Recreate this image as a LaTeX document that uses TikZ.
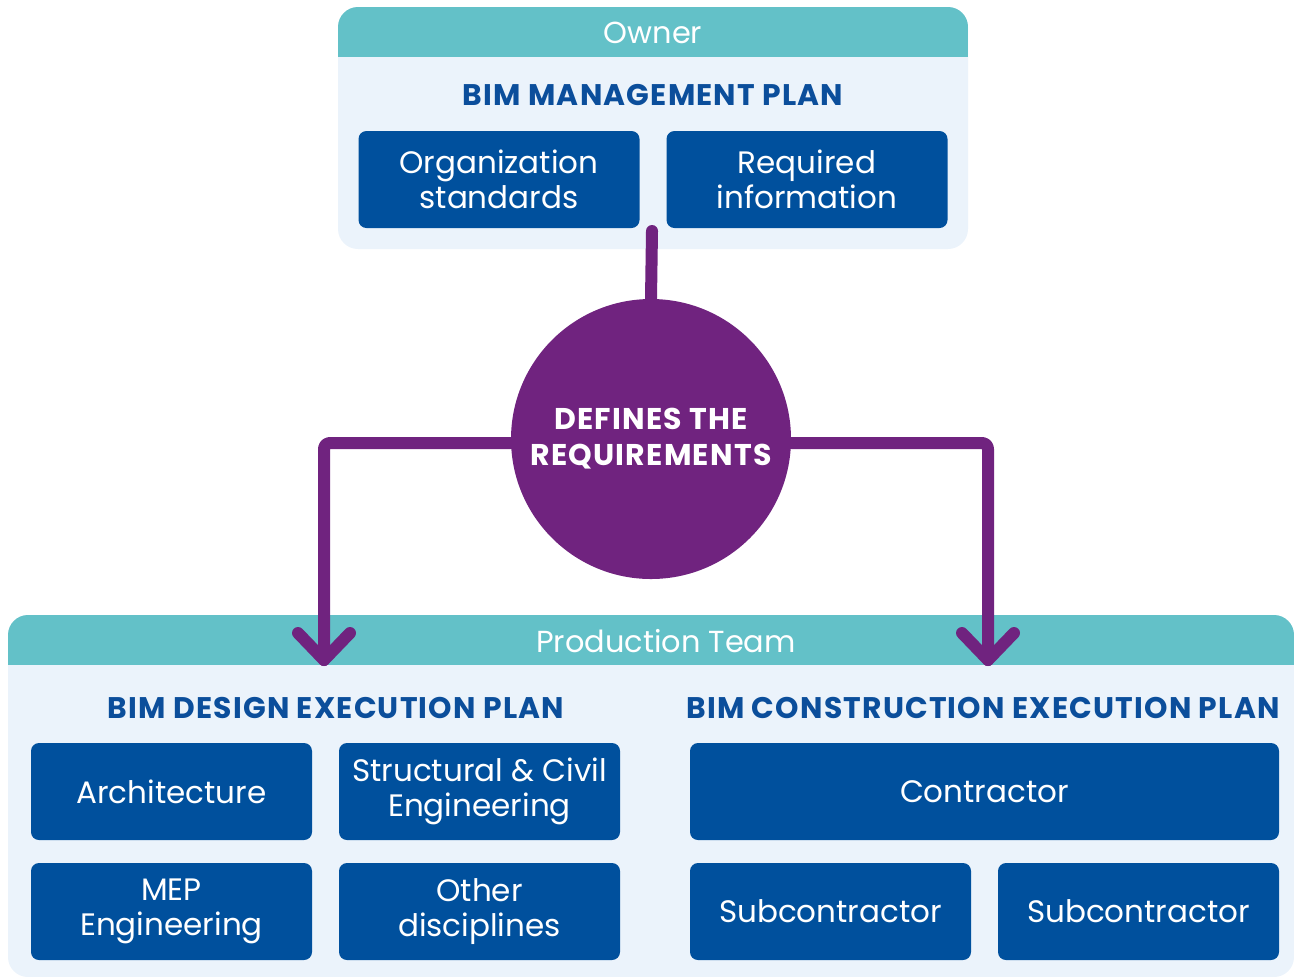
\documentclass[tikz,border=0pt]{standalone}
\usepackage{fontspec}
\setmainfont{Poppins}
\newfontfamily\spacedfont[LetterSpace=4]{Poppins}
\usepackage{xcolor}

\definecolor{headteal}{HTML}{63C1C8}
\definecolor{panelbg}{HTML}{EBF3FB}
\definecolor{tileblue}{HTML}{00509D}
\definecolor{titleblue}{HTML}{0B4E9B}
\definecolor{flowpurple}{HTML}{70237F}

\newcommand{\tilefont}{\fontsize{15.5}{17.5}\selectfont}
\newcommand{\titlefont}{\spacedfont\fontsize{14.9}{16}\selectfont\bfseries}
\newcommand{\headfont}{\fontsize{15.2}{16}\selectfont}
\newcommand{\hubfont}{\spacedfont\fontsize{15}{18}\selectfont\bfseries}

\tikzset{
  tile/.style={fill=tileblue, text=white, rounded corners=4pt, minimum width=140.5pt,
    minimum height=48.5pt, align=center, inner sep=0pt, font=\tilefont},
  plantitle/.style={text=titleblue, font=\titlefont, inner sep=0pt},
  headlabel/.style={text=white, font=\headfont, inner sep=0pt},
  flow/.style={draw=flowpurple, line width=6pt, line cap=round, line join=round},
}

\begin{document}
\begin{tikzpicture}[x=0.5pt, y=-0.5pt]
\useasboundingbox (0,0) rectangle (1294,976);

\fill[panelbg, rounded corners=10pt] (338,7) rectangle (968,249);
\begin{scope}
\clip[rounded corners=10pt] (338,7) rectangle (968,249);
\fill[headteal] (338,7) rectangle (968,57);
\end{scope}

\fill[panelbg, rounded corners=10pt] (8,615) rectangle (1294,977);
\begin{scope}
\clip[rounded corners=10pt] (8,615) rectangle (1294,977);
\fill[headteal] (8,615) rectangle (1294,665);
\end{scope}

\node[headlabel] (owner) at (653,33) {Owner};
\node[plantitle] (bmp) at (653,95) {BIM MANAGEMENT PLAN};
\node[tile] (orgstd) at (499,179.5) {Organization\\standards};
\node[tile] (reqinfo) at (807,179.5) {Required\\information};

\node[headlabel] (prodteam) at (666,641) {Production Team};
\node[plantitle] (bdep) at (336,708) {BIM DESIGN EXECUTION PLAN};
\node[plantitle] (bcep) at (983,708) {BIM CONSTRUCTION EXECUTION PLAN};

\node[tile] (arch) at (171.5,791.5) {Architecture};
\node[tile] (struct) at (479.5,791.5) {Structural \& Civil\\Engineering};
\node[tile] (mep) at (171.5,911.5) {MEP\\Engineering};
\node[tile] (other) at (479.5,911.5) {Other\\disciplines};
\node[tile, minimum width=294.5pt] (contr) at (984.5,791.5) {Contractor};
\node[tile] (subone) at (830.5,911.5) {Subcontractor};
\node[tile] (subtwo) at (1138.5,911.5) {Subcontractor};

\node[circle, fill=flowpurple, minimum size=140pt, inner sep=0pt, text=white,
  align=center, font=\hubfont] (defs) at (651,439) {DEFINES THE\\REQUIREMENTS};

\coordinate (tap) at (652,231);
\coordinate (dtip) at (324,660);
\coordinate (ctip) at (988,660);

\draw[flow] (tap) -- (defs.north);
\draw[flow, rounded corners=3pt] ([yshift=-2pt]defs.west) -| (dtip);
\draw[flow, rounded corners=3pt] ([yshift=-2pt]defs.east) -| (ctip);
\draw[flow] (dtip) ++(-26,-27) -- (dtip) -- ++(26,-27);
\draw[flow] (ctip) ++(-26,-27) -- (ctip) -- ++(26,-27);
\end{tikzpicture}
\end{document}
